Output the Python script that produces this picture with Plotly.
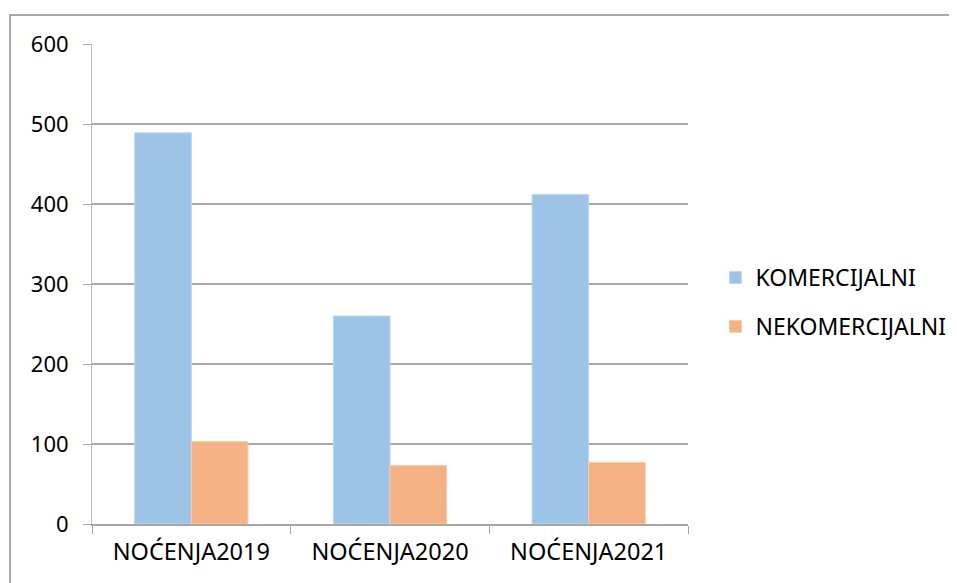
import plotly.graph_objects as go

categories = ["NOĆENJA2019", "NOĆENJA2020", "NOĆENJA2021"]
komercijalni = [489, 260, 412]
nekomercijalni = [103, 73, 77]
series_names = ["KOMERCIJALNI", "NEKOMERCIJALNI"]
y_ticks = [0, 100, 200, 300, 400, 500, 600]

FONT = "Noto Sans, Liberation Sans, sans-serif"

fig = go.Figure()
fig.add_trace(go.Bar(x=categories, y=komercijalni, name=series_names[0],
                     marker=dict(color="#9DC3E6", line=dict(color="#BDD7EE", width=1)),
                     legendgroup="a"))
fig.add_trace(go.Bar(x=categories, y=nekomercijalni, name=series_names[1],
                     marker=dict(color="#F4B183", line=dict(color="#F8CBAD", width=1)),
                     legendgroup="b"))

fig.update_layout(
    width=949, height=575,
    margin=dict(l=84, r=269, t=36, b=59, autoexpand=False),
    paper_bgcolor="white", plot_bgcolor="white",
    barmode="group", bargap=0.43, bargroupgap=0,
    font=dict(family=FONT, size=22, color="black"),
    legend=dict(x=1.046, y=0.4625, xanchor="left", yanchor="middle",
                font=dict(size=23), tracegroupgap=16, itemwidth=30),
    showlegend=True,
    xaxis=dict(type="category", showline=True, linecolor="#A6A6A6", linewidth=2,
               ticks="outside", tickson="boundaries", ticklen=8, tickcolor="#A6A6A6",
               tickfont=dict(size=23.5), showgrid=False, ticklabelstandoff=6),
    yaxis=dict(range=[0, 600], tickvals=y_ticks, showgrid=True, gridcolor="#A6A6A6",
               gridwidth=2, showline=True, linecolor="#BFBFBF", linewidth=1,
               ticks="outside", ticklen=8, tickcolor="#A6A6A6", zeroline=False,
               tickfont=dict(size=22), ticklabelstandoff=10),
    shapes=[dict(type="rect", xref="paper", yref="paper", x0=-0.1376, y0=-0.3,
                 x1=1.6, y1=1.0604, line=dict(color="#8C8C8C", width=1.5),
                 fillcolor="rgba(0,0,0,0)", layer="below")],
)

fig.write_html("out.html")
